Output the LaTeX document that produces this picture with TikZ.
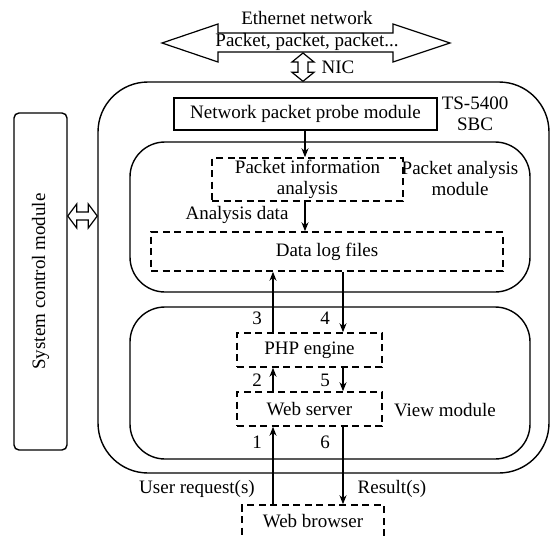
\documentclass[tikz,border=0pt]{standalone}
\usepackage{fontspec}
\setmainfont{Liberation Serif}
\usetikzlibrary{arrows.meta,calc}
\tikzset{
  txt/.style={font=\fontsize{19}{21}\selectfont, inner sep=0pt, align=center},
  solidbox/.style={draw, line width=1.3pt, inner sep=0pt, font=\fontsize{19}{21}\selectfont, align=center},
  dbox/.style={draw, line width=1.5pt, dash pattern=on 7pt off 4.5pt, inner sep=0pt, font=\fontsize{19}{21}\selectfont, align=center},
  modbox/.style={draw, line width=1.4pt, inner sep=0pt},
  arr/.style={line width=1.4pt, -{Stealth[length=9pt,width=7pt]}},
  dblarrow/.style={draw, line width=1.2pt, fill=white, line join=miter}
}
\begin{document}
\begin{tikzpicture}[x=1pt,y=-1pt]
\useasboundingbox (0,0) rectangle (550,536);
% module frames
\node[modbox, rounded corners=50pt, minimum width=451pt, minimum height=391pt] (sbc) at (323.5,277.5) {};
\node[modbox, rounded corners=35pt, minimum width=400pt, minimum height=150pt] (pam) at (330,217) {};
\node[modbox, rounded corners=35pt, minimum width=400pt, minimum height=152pt] (view) at (330,383) {};
\node[modbox, rounded corners=5pt, minimum width=53pt, minimum height=337pt] (sys) at (40.5,281.5) {};
\node[txt, rotate=90] (systxt) at (40.5,281.5) {System control module};
% boxes
\node[solidbox, minimum width=263pt, minimum height=32pt] (probe) at (305.5,114) {Network packet probe module};
\node[dbox, minimum width=191pt, minimum height=43pt] (pia) at (307.5,179.5) {Packet information\\analysis};
\node[dbox, minimum width=352pt, minimum height=39pt] (datalog) at (327,251.5) {Data log files};
\node[dbox, minimum width=145pt, minimum height=34pt] (php) at (309.5,350) {PHP engine};
\node[dbox, minimum width=145pt, minimum height=34pt] (web) at (309.5,409) {Web server};
\node[dbox, minimum width=142pt, minimum height=50pt, text depth=0pt] (browser) at (313,530) {};
\node[txt] (browsertxt) at (313,521) {Web browser};
% labels
\node[txt] (sbctxt) at (475,114) {TS-5400\\SBC};
\node[txt] (pamtxt) at (460,178) {Packet analysis\\module};
\node[txt] (adtxt) at (237,215) {Analysis data};
\node[txt] (viewtxt) at (445,410) {View module};
\node[txt] (l3) at (257,318) {3};
\node[txt] (l4) at (325,318) {4};
\node[txt] (l2) at (257,380) {2};
\node[txt] (l5) at (325,380) {5};
\node[txt] (l1) at (257,442) {1};
\node[txt] (l6) at (325,442) {6};
\node[txt] (ureq) at (197,489) {User request(s)};
\node[txt] (res) at (392,489) {Result(s)};
% columns
\coordinate (cA) at (273,0);
\coordinate (cB) at (343,0);
\coordinate (cC) at (305,0);
% arrows
\draw[arr] (probe.south -| cC) -- (pia.north -| cC);
\draw[arr] (pia.south -| cC) -- (datalog.north -| cC);
\draw[arr] (php.north -| cA) -- (datalog.south -| cA);
\draw[arr] (datalog.south -| cB) -- (php.north -| cB);
\draw[arr] (web.north -| cA) -- (php.south -| cA);
\draw[arr] (php.south -| cB) -- (web.north -| cB);
\draw[arr] (browser.north -| cA) -- (web.south -| cA);
\draw[arr] (web.south -| cB) -- (browser.north -| cB);
% Ethernet double arrow
\draw[dblarrow] (162,43) -- (218,24) -- (218,33) -- (393,33) -- (393,24) -- (450,43)
  -- (393,62) -- (393,52) -- (218,52) -- (218,62) -- cycle;
\node[txt] (ethtxt) at (307,18) {Ethernet network};
\node[txt] (pkttxt) at (307,42) {Packet, packet, packet...};
% NIC double arrow
\coordinate (nicTop) at (303,53);
\coordinate (nicBot) at (sbc.north -| nicTop);
\draw[dblarrow] (nicTop) -- ++(11,9) -- ++(-6,0) -- ($(nicBot)+(5,-9)$) -- ++(6,0) -- (nicBot)
  -- ++(-11,-9) -- ++(6,0) -- ($(nicTop)+(-5,9)$) -- ++(-6,0) -- cycle;
\node[txt] (nictxt) at (338,67) {NIC};
% system double arrow
\coordinate (sL) at (sys.east |- 0,216);
\coordinate (sR) at (sbc.west |- 0,216);
\draw[dblarrow] (sL) -- ++(9,-12) -- ++(0,8) -- ($(sR)+(-9,-4)$) -- ++(0,-8) -- (sR)
  -- ++(-9,12) -- ++(0,-8) -- ($(sL)+(9,4)$) -- ++(0,8) -- cycle;
\end{tikzpicture}
\end{document}
